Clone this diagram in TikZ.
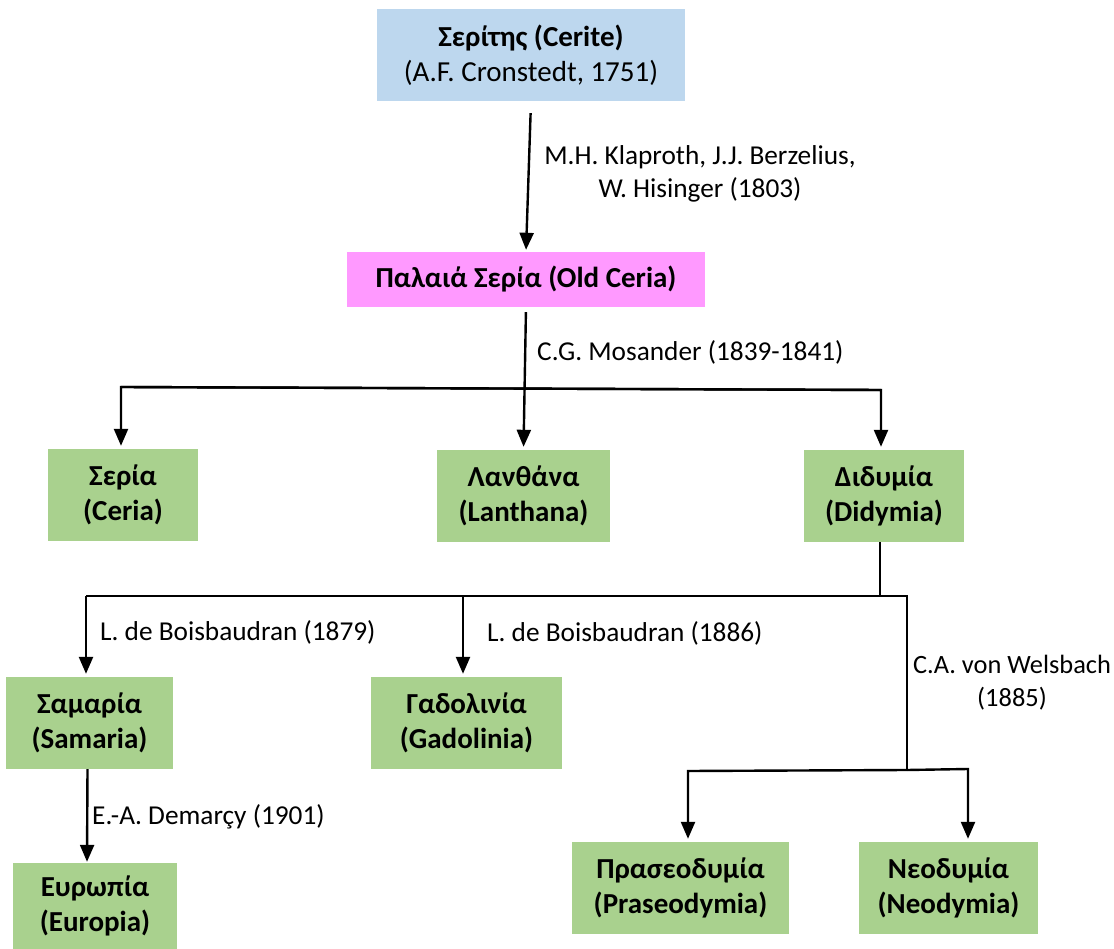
\documentclass[tikz,border=0pt]{standalone}
\usepackage{fontspec}
\setmainfont{Carlito}
\usetikzlibrary{arrows.meta}
\definecolor{boxblue}{HTML}{BDD7EE}
\definecolor{boxpink}{HTML}{FF99FF}
\definecolor{boxgreen}{HTML}{A9D18E}
\begin{document}
\begin{tikzpicture}[x=1pt,y=-1pt,
  box/.style={inner sep=0pt, align=center, font=\fontsize{29}{35}\selectfont\bfseries},
  gbox/.style={box, fill=boxgreen},
  lbl/.style={inner sep=0pt, align=center, font=\fontsize{27.3}{33}\selectfont},
  conn/.style={line width=2.4pt, -{Triangle[length=17pt,width=14pt]}, shorten >=3pt},
  plainline/.style={line width=2.4pt}]
\useasboundingbox (0,0) rectangle (1114,949);

% boxes
\node[box, fill=boxblue, minimum width=308pt, minimum height=92pt] (cerite) at (531,55)
  {Σερίτης (Cerite)\\{\mdseries (A.F. Cronstedt, 1751)}};
\node[box, fill=boxpink, minimum width=358pt, minimum height=55pt] (oldceria) at (526,279.5)
  {Παλαιά Σερία (Old Ceria)};
\node[gbox, minimum width=150pt, minimum height=92pt] (ceria) at (123,495) {Σερία\\(Ceria)};
\node[gbox, minimum width=173pt, minimum height=92pt] (lanthana) at (523.5,496) {Λανθάνα\\(Lanthana)};
\node[gbox, minimum width=160pt, minimum height=92pt] (didymia) at (884,496) {Διδυμία\\(Didymia)};
\node[gbox, minimum width=167pt, minimum height=92pt] (samaria) at (89.5,723) {Σαμαρία\\(Samaria)};
\node[gbox, minimum width=191pt, minimum height=92pt] (gadolinia) at (466.5,723) {Γαδολινία\\(Gadolinia)};
\node[gbox, minimum width=164pt, minimum height=86pt] (europia) at (95,906) {Ευρωπία\\(Europia)};
\node[gbox, minimum width=217pt, minimum height=92pt] (praseo) at (680.5,888) {Πρασεοδυμία\\(Praseodymia)};
\node[gbox, minimum width=179pt, minimum height=92pt] (neo) at (948.5,888) {Νεοδυμία\\(Neodymia)};

% labels
\node[lbl] (lk) at (700,174) {M.H. Klaproth, J.J. Berzelius,\\W. Hisinger (1803)};
\node[lbl, anchor=west] (lm) at (537,352) {C.G. Mosander (1839-1841)};
\node[lbl, anchor=west] (lb1) at (100,632) {L. de Boisbaudran (1879)};
\node[lbl, anchor=west] (lb2) at (487,633) {L. de Boisbaudran (1886)};
\node[lbl, font=\fontsize{26.4}{33}\selectfont] (lw) at (1012,683) {C.A. von Welsbach\\(1885)};
\node[lbl, anchor=west] (ld) at (92,817) {E.-A. Demarçy (1901)};

% junction coordinates
\coordinate (bl) at (121,387);
\coordinate (br) at (881,390);
\coordinate (dj) at (880,596);
\coordinate (hl) at (86,596);
\coordinate (hg) at (463,596);
\coordinate (hr) at (907,596);
\coordinate (pj) at (907,770);
\coordinate (pl) at (688,771);
\coordinate (nr) at (968,769);

% connectors
\draw[conn, shorten <=12pt, shorten >=2pt] (cerite.south) -- (oldceria.north);
\draw[conn, shorten <=5pt] (oldceria.south) -- (lanthana.north);
\draw[conn] (br) -- (bl) -- (bl |- ceria.north);
\draw[conn] (bl) -- (br) -- (br |- didymia.north);
\draw[plainline] (didymia.south -| dj) -- (dj);
\draw[plainline] (hl) -- (hr) -- (pj);
\draw[conn] (hl) -- (hl |- samaria.north);
\draw[conn] (hg) -- (hg |- gadolinia.north);
\draw[conn] (pj) -- (pl) -- (pl |- praseo.north);
\draw[conn] (pj) -- (nr) -- (nr |- neo.north);
\draw[conn, shorten >=1pt] ([xshift=-2pt]samaria.south) -- ([xshift=-8pt]europia.north);
\end{tikzpicture}
\end{document}
